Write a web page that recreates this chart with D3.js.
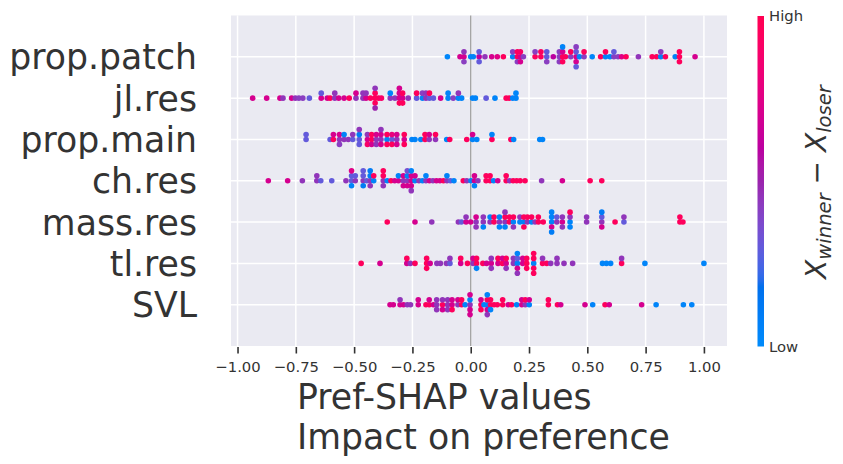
<!DOCTYPE html>
<html><head><meta charset="utf-8">
<script src="https://cdn.jsdelivr.net/npm/d3@7"></script>
<style>body{margin:0;background:#fff} svg{display:block}</style>
</head><body><svg id="c" width="843" height="464"></svg>
<script>
// feature names, top to bottom
const features = ["prop.patch","jl.res","prop.main","ch.res","mass.res","tl.res","SVL"];
// each point: [SHAP value, normalised feature value (0 = low, 1 = high)]
const propPatch = [
[-0.100,0.03],[-0.046,0.7],[-0.029,0.7],[-0.029,0.45],[-0.029,0.42],[0.000,0.03],[0.011,0.05],
[0.036,0.6],[0.036,0.3],[0.036,0.3],[0.061,0.45],[0.090,0.7],[0.114,0.75],[0.140,0.95],
[0.180,0.05],[0.180,0.42],[0.200,0.95],[0.200,0.95],[0.200,0.42],[0.213,0.7],[0.213,0.9],[0.213,0.7],
[0.226,0.42],[0.276,0.95],[0.276,0.42],[0.301,0.95],[0.301,0.95],[0.326,0.3],[0.326,0.3],[0.326,0.42],
[0.354,0.6],[0.380,0.42],[0.380,0.42],[0.380,0.42],[0.394,0.95],[0.394,0.7],[0.394,0.95],[0.394,0.05],
[0.406,0.95],[0.429,0.42],[0.429,0.95],[0.452,0.7],[0.452,0.3],[0.452,0.7],[0.452,0.42],[0.452,0.3],
[0.466,0.03],[0.486,0.42],[0.486,0.95],[0.521,0.03],[0.557,0.95],[0.578,0.05],[0.578,0.95],[0.597,0.05],
[0.614,0.42],[0.614,0.3],[0.632,0.42],[0.647,0.75],[0.666,0.95],[0.719,0.45],[0.778,0.95],[0.797,0.95],
[0.815,0.05],[0.815,0.42],[0.835,0.95],[0.877,0.05],[0.895,0.95],[0.895,0.95],[0.895,0.95],[0.962,0.7]];
const jlRes = [
[-0.935,0.7],[-0.875,0.7],[-0.818,0.7],[-0.805,0.45],[-0.768,0.7],[-0.752,0.45],[-0.737,0.42],[-0.720,0.42],
[-0.692,0.3],[-0.641,0.7],[-0.641,0.3],[-0.615,0.7],[-0.603,0.95],[-0.583,0.45],[-0.583,0.45],[-0.566,0.7],
[-0.543,0.7],[-0.521,0.95],[-0.492,0.45],[-0.492,0.7],[-0.462,0.45],[-0.462,0.45],[-0.449,0.7],[-0.449,0.45],
[-0.430,0.95],[-0.410,0.95],[-0.410,0.95],[-0.410,0.95],[-0.410,0.45],[-0.410,0.5],[-0.395,0.95],[-0.383,0.9],
[-0.345,0.45],[-0.345,0.05],[-0.325,0.45],[-0.306,0.7],[-0.306,0.7],[-0.306,0.95],[-0.306,0.7],
[-0.292,0.7],[-0.292,0.95],[-0.292,0.95],[-0.268,0.45],[-0.232,0.3],[-0.232,0.95],[-0.207,0.05],[-0.207,0.42],
[-0.192,0.45],[-0.192,0.45],[-0.177,0.3],[-0.177,0.95],[-0.160,0.3],[-0.129,0.7],[-0.097,0.05],[-0.097,0.05],
[-0.075,0.42],[-0.053,0.05],[-0.053,0.45],[-0.039,0.05],[0.008,0.05],[0.020,0.05],[0.066,0.3],[0.104,0.05],
[0.152,0.95],[0.165,0.95],[0.180,0.05],[0.194,0.05],[0.194,0.03]];
const propMain = [
[-0.706,0.3],[-0.706,0.3],[-0.603,0.3],[-0.589,0.95],[-0.589,0.7],[-0.563,0.45],[-0.563,0.7],[-0.563,0.42],
[-0.543,0.45],[-0.543,0.05],[-0.525,0.45],[-0.506,0.3],[-0.506,0.45],[-0.478,0.3],[-0.478,0.1],[-0.478,0.3],[-0.478,0.45],
[-0.443,0.7],[-0.443,0.45],[-0.443,0.9],[-0.425,0.95],[-0.425,0.95],[-0.425,0.7],[-0.405,0.45],[-0.405,0.7],[-0.405,0.45],
[-0.385,0.45],[-0.385,0.7],[-0.385,0.7],[-0.385,0.45],[-0.359,0.05],[-0.359,0.95],[-0.359,0.95],
[-0.338,0.3],[-0.338,0.8],[-0.338,0.95],[-0.317,0.45],[-0.317,0.7],[-0.317,0.7],[-0.285,0.7],[-0.285,0.95],[-0.285,0.95],
[-0.252,0.05],[-0.239,0.05],[-0.214,0.05],[-0.196,0.95],[-0.196,0.95],[-0.178,0.45],[-0.178,0.7],
[-0.151,0.45],[-0.151,0.95],[-0.103,0.05],[-0.090,0.95],[-0.017,0.95],[0.008,0.05],[0.008,0.7],[0.026,0.05],
[0.091,0.95],[0.091,0.05],[0.172,0.95],[0.184,0.05],[0.296,0.05],[0.308,0.05]];
const chRes = [
[-0.868,0.7],[-0.785,0.7],[-0.722,0.45],[-0.660,0.45],[-0.660,0.45],[-0.643,0.3],[-0.596,0.3],[-0.535,0.45],
[-0.511,0.3],[-0.511,0.3],[-0.511,0.05],[-0.511,0.75],[-0.495,0.45],[-0.495,0.3],
[-0.461,0.45],[-0.461,0.3],[-0.461,0.1],[-0.461,0.3],[-0.446,0.3],
[-0.431,0.45],[-0.431,0.1],[-0.431,0.45],[-0.431,0.1],[-0.416,0.05],[-0.416,0.95],
[-0.375,0.45],[-0.375,0.95],[-0.375,0.45],[-0.375,0.95],[-0.358,0.05],[-0.342,0.95],[-0.326,0.7],
[-0.310,0.7],[-0.310,0.05],[-0.289,0.45],[-0.289,0.7],[-0.289,0.7],
[-0.272,0.45],[-0.272,0.05],[-0.272,0.7],[-0.272,0.35],[-0.255,0.7],[-0.255,0.7],[-0.255,0.7],[-0.255,0.05],[-0.255,0.45],
[-0.239,0.05],[-0.239,0.7],[-0.222,0.45],[-0.207,0.05],[-0.192,0.45],[-0.192,0.05],[-0.177,0.7],[-0.162,0.45],
[-0.147,0.7],[-0.132,0.7],[-0.117,0.95],[-0.102,0.45],[-0.102,0.05],[-0.087,0.3],[-0.072,0.05],
[-0.032,0.95],[-0.017,0.45],[0.001,0.05],[0.016,0.7],[0.016,0.7],[0.016,0.05],[0.031,0.45],
[0.066,0.95],[0.066,0.95],[0.083,0.95],[0.083,0.95],[0.098,0.05],[0.116,0.7],[0.152,0.95],[0.152,0.95],
[0.167,0.45],[0.182,0.95],[0.197,0.95],[0.212,0.95],[0.233,0.95],[0.304,0.45],[0.393,0.7],[0.512,0.95],[0.562,0.95]];
const massRes = [
[-0.358,0.95],[-0.239,0.7],[-0.167,0.45],[-0.053,0.45],[-0.040,0.3],[-0.020,0.7],[-0.020,0.45],[0.000,0.7],
[0.023,0.45],[0.023,0.7],[0.023,0.45],[0.054,0.45],[0.054,0.45],[0.054,0.05],[0.083,0.45],[0.083,0.05],
[0.100,0.95],[0.100,0.95],[0.123,0.45],[0.123,0.05],[0.123,0.05],[0.147,0.45],[0.147,0.95],[0.147,0.05],[0.147,0.45],
[0.166,0.95],[0.166,0.95],[0.183,0.05],[0.183,0.95],[0.183,0.45],[0.211,0.05],[0.211,0.45],
[0.228,0.05],[0.228,0.95],[0.228,0.95],[0.243,0.45],[0.243,0.95],[0.261,0.05],[0.261,0.95],[0.276,0.45],
[0.290,0.95],[0.290,0.95],[0.311,0.95],[0.347,0.05],[0.347,0.05],[0.347,0.7],[0.347,0.05],[0.347,0.1],
[0.369,0.45],[0.369,0.3],[0.393,0.7],[0.393,0.45],[0.393,0.45],[0.426,0.05],[0.426,0.45],[0.426,0.05],[0.426,0.95],
[0.497,0.45],[0.497,0.45],[0.562,0.45],[0.562,0.3],[0.562,0.7],[0.562,0.1],[0.619,0.95],[0.657,0.3],[0.657,0.45],
[0.897,0.95],[0.897,0.95],[0.910,0.95]];
const tlRes = [
[-0.470,0.95],[-0.389,0.7],[-0.274,0.7],[-0.274,0.95],[-0.259,0.45],[-0.239,0.95],[-0.189,0.95],[-0.189,0.95],[-0.189,0.95],
[-0.174,0.7],[-0.145,0.45],[-0.130,0.45],[-0.104,0.45],[-0.089,0.3],[-0.089,0.45],[-0.043,0.7],[-0.043,0.95],
[-0.014,0.95],[0.010,0.45],[0.010,0.7],[0.025,0.95],[0.025,0.95],[0.025,0.05],[0.052,0.95],[0.068,0.7],
[0.088,0.7],[0.088,0.45],[0.088,0.45],[0.117,0.7],[0.117,0.95],[0.136,0.95],[0.136,0.7],[0.152,0.7],[0.152,0.95],[0.152,0.45],
[0.183,0.45],[0.183,0.45],[0.200,0.05],[0.200,0.3],[0.200,0.7],[0.200,0.05],[0.200,0.45],[0.223,0.7],[0.223,0.7],
[0.240,0.95],[0.240,0.95],[0.240,0.95],[0.270,0.05],[0.270,0.95],[0.270,0.95],[0.270,0.95],[0.270,0.95],
[0.308,0.95],[0.308,0.45],[0.326,0.95],[0.343,0.45],[0.370,0.45],[0.370,0.45],[0.400,0.45],[0.437,0.45],
[0.565,0.05],[0.582,0.05],[0.600,0.05],[0.647,0.95],[0.647,0.45],[0.747,0.05],[1.000,0.05]];
const svl = [
[-0.346,0.7],[-0.332,0.7],[-0.303,0.7],[-0.303,0.45],[-0.288,0.7],[-0.272,0.45],[-0.258,0.45],[-0.225,0.7],[-0.225,0.7],
[-0.192,0.95],[-0.178,0.95],[-0.178,0.7],[-0.160,0.7],[-0.146,0.45],[-0.146,0.45],[-0.146,0.45],
[-0.121,0.95],[-0.121,0.45],[-0.121,0.7],[-0.099,0.45],[-0.099,0.45],[-0.099,0.45],[-0.080,0.7],[-0.080,0.7],[-0.080,0.95],
[-0.055,0.45],[-0.055,0.7],[-0.039,0.95],[-0.039,0.95],[-0.024,0.05],
[-0.003,0.45],[-0.003,0.05],[-0.003,0.7],[-0.003,0.7],[-0.003,0.7],
[0.044,0.95],[0.044,0.7],[0.044,0.95],[0.057,0.05],[0.071,0.05],[0.071,0.95],[0.071,0.7],[0.071,0.05],[0.071,0.45],
[0.085,0.95],[0.085,0.95],[0.085,0.05],[0.100,0.95],[0.114,0.95],[0.137,0.95],[0.137,0.95],
[0.161,0.7],[0.175,0.95],[0.197,0.05],[0.219,0.7],[0.219,0.7],[0.234,0.45],[0.234,0.95],[0.251,0.05],[0.251,0.7],
[0.333,0.95],[0.333,0.95],[0.372,0.95],[0.386,0.7],[0.490,0.7],[0.523,0.05],[0.576,0.95],[0.594,0.7],
[0.733,0.7],[0.795,0.05],[0.912,0.05],[0.948,0.05]];
const seriesValues = [propPatch, jlRes, propMain, chRes, massRes, tlRes, svl];
const xTicks = [-1, -0.75, -0.5, -0.25, 0, 0.25, 0.5, 0.75, 1];
const colorTickLabels = ["Low", "High"];
const xLabelLines = ["Pref-SHAP values", "Impact on preference"];

// SHAP red_blue colormap (Lch path, like shap.plots.colors.red_blue)
function lch2rgb(l, c, h) {
  const a = c * Math.cos(h), b = c * Math.sin(h);
  const fy = (l + 16) / 116, fx = a / 500 + fy, fz = fy - b / 200;
  const f = t => t > 0.2068966 ? t * t * t : (t - 16 / 116) / 7.787;
  const X = f(fx) * 0.95047, Y = f(fy), Z = f(fz) * 1.08883;
  let rgb = [
    3.24048134 * X - 1.53715152 * Y - 0.49853633 * Z,
    -0.96925495 * X + 1.87599 * Y + 0.04155593 * Z,
    0.05564664 * X - 0.20404134 * Y + 1.05731107 * Z];
  rgb = rgb.map(v => v > 0.0031308 ? 1.055 * Math.pow(v, 1 / 2.4) - 0.055 : 12.92 * v)
           .map(v => Math.round(255 * Math.max(0, Math.min(1, v))));
  return `rgb(${rgb[0]},${rgb[1]},${rgb[2]})`;
}
function redBlue(t) {
  t = Math.max(0, Math.min(1, t));
  const l = t < 0.5 ? 54 + (40 - 54) * (t / 0.5) : 40 + (54 - 40) * ((t - 0.5) / 0.5);
  const c = 70 + 20 * t;
  const h = 4.6588 + (0.35470565 + 2 * Math.PI - 4.6588) * t;
  return lch2rgb(l, c, h);
}

// SHAP beeswarm vertical layout
function beeswarm(vals) {
  const mn = d3.min(vals), mx = d3.max(vals), nbins = 100;
  const quant = vals.map(v => Math.round(nbins * (v - mn) / (mx - mn + 1e-8)));
  const inds = d3.range(vals.length).sort((a, b) => quant[a] - quant[b] || a - b);
  const ys = new Array(vals.length).fill(0);
  let layer = 0, last = -1;
  for (const i of inds) {
    if (quant[i] !== last) layer = 0;
    ys[i] = Math.ceil(layer / 2) * ((layer % 2) * 2 - 1);
    layer++; last = quant[i];
  }
  const m = d3.max(ys, y => y + 1);
  return ys.map(y => y * 0.9 * (0.4 / m));
}

const svg = d3.select("#c");
const font = "'DejaVu Sans', sans-serif";
const x = d3.scaleLinear().domain([-1.028, 1.099]).range([231, 727]);
const y = d3.scaleLinear().domain([-1, 7]).range([346, 15.5]);
const nF = features.length;

svg.append("rect").attr("x", x.range()[0]).attr("y", y.range()[1])
  .attr("width", x.range()[1] - x.range()[0]).attr("height", y.range()[0] - y.range()[1])
  .attr("fill", "#EAEAF2");

// grid
svg.append("g").selectAll("line").data(xTicks).join("line")
  .attr("x1", d => x(d)).attr("x2", d => x(d)).attr("y1", y.range()[1]).attr("y2", y.range()[0])
  .attr("stroke", "#fff").attr("stroke-width", 1.5);
svg.append("g").selectAll("line").data(d3.range(nF)).join("line")
  .attr("x1", x.range()[0]).attr("x2", x.range()[1]).attr("y1", d => y(d)).attr("y2", d => y(d))
  .attr("stroke", "#fff").attr("stroke-width", 1.5);
// zero line
svg.append("line").attr("x1", x(0)).attr("x2", x(0)).attr("y1", y.range()[1]).attr("y2", y.range()[0])
  .attr("stroke", "#999999").attr("stroke-width", 1.2);

// dots
const dots = svg.append("g");
for (let k = nF - 1; k >= 0; k--) {
  const data = seriesValues[k];
  const pos = nF - 1 - k;
  const ys = beeswarm(data.map(d => d[0]));
  dots.append("g").selectAll("circle").data(data).join("circle")
    .attr("cx", d => x(d[0])).attr("cy", (d, i) => y(pos + ys[i]))
    .attr("r", 2.8).attr("fill", d => redBlue(d[1]));
}

// y labels
svg.append("g").selectAll("text").data(features).join("text")
  .attr("x", 197).attr("y", (d, i) => y(nF - 1 - i)).attr("dy", "0.36em")
  .attr("text-anchor", "end").attr("font-family", font).attr("font-size", 34.7)
  .attr("fill", "#333333").text(d => d);

// x axis
const xAxis = d3.axisBottom(x).tickValues(xTicks).tickSize(6.5).tickPadding(8)
  .tickFormat(d => d3.format(".2f")(d).replace("-", "\u2212"));
const ga = svg.append("g").attr("transform", `translate(0,${y.range()[0] + 1})`).call(xAxis);
ga.select(".domain").remove();
ga.selectAll(".tick line").attr("stroke", "#333333").attr("stroke-width", 1.6);
ga.selectAll(".tick text").attr("font-family", font).attr("font-size", 14.8).attr("fill", "#333333");

// x label (two lines)
const xl = svg.append("text").attr("font-family", font).attr("font-size", 34.7).attr("fill", "#333333");
xl.selectAll("tspan").data(xLabelLines).join("tspan")
  .attr("x", 297).attr("y", (d, i) => 409 + i * 40).text(d => d);

// colorbar
const cbY = d3.scaleLinear().domain([0, 1]).range([346.5, 16]);
const grad = svg.append("defs").append("linearGradient").attr("id", "cbg")
  .attr("x1", 0).attr("y1", 1).attr("x2", 0).attr("y2", 0);
grad.selectAll("stop").data(d3.range(0, 1.0001, 0.02)).join("stop")
  .attr("offset", d => d).attr("stop-color", d => redBlue(d));
svg.append("rect").attr("x", 757.5).attr("y", cbY(1)).attr("width", 6.5)
  .attr("height", cbY(0) - cbY(1)).attr("fill", "url(#cbg)");
svg.append("g").selectAll("text").data(colorTickLabels).join("text")
  .attr("x", 769).attr("y", (d, i) => cbY(i)).attr("dy", "0.36em")
  .attr("font-family", font).attr("font-size", 14.8).attr("fill", "#333333").text(d => d);

// colorbar label: X_winner − X_loser
const cl = svg.append("text").attr("transform", "translate(826,182) rotate(-90)")
  .attr("text-anchor", "middle").attr("font-family", font).attr("font-size", 28).attr("fill", "#333333");
cl.append("tspan").attr("font-style", "italic").text("X");
cl.append("tspan").attr("font-style", "italic").attr("font-size", 19.6).attr("dy", 5).text("winner");
cl.append("tspan").attr("dy", -5).text(" \u2212 ");
cl.append("tspan").attr("font-style", "italic").text("X");
cl.append("tspan").attr("font-style", "italic").attr("font-size", 19.6).attr("dy", 5).text("loser");
</script></body></html>
